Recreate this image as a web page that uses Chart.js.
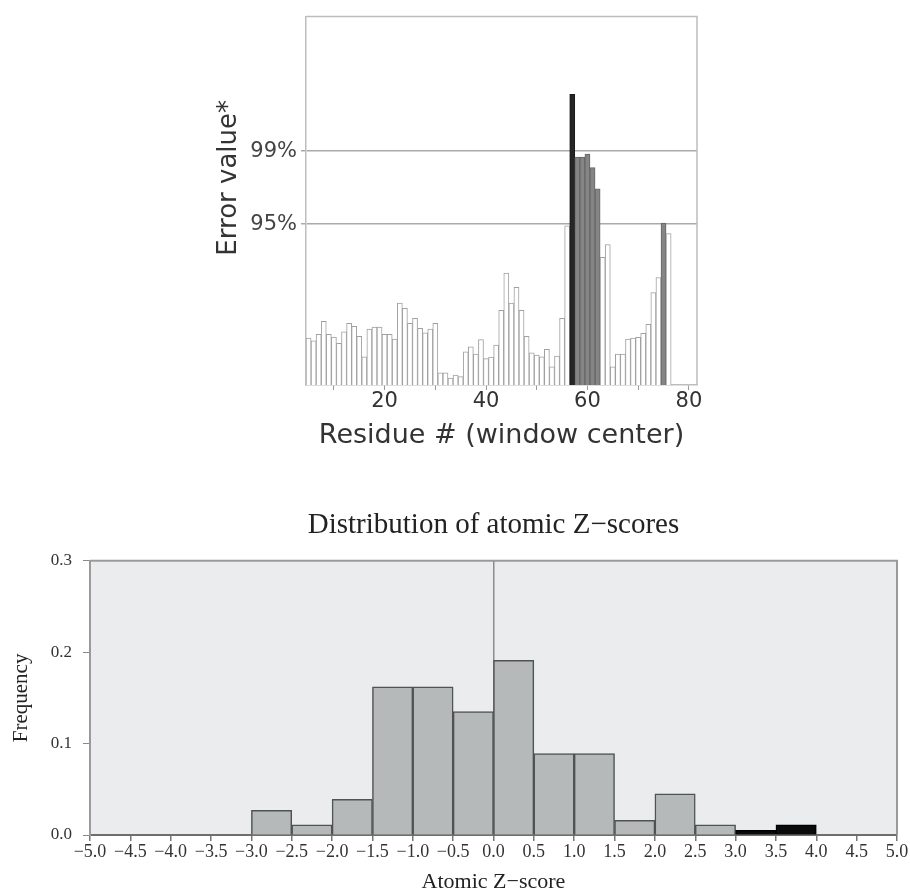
<!DOCTYPE html>
<html><head><meta charset="utf-8">
<script src="https://cdn.jsdelivr.net/npm/chart.js@4.4.0/dist/chart.umd.min.js"></script>
<style>
html,body{margin:0;padding:0;background:#fff;}
#wrap{position:relative;width:910px;height:893px;overflow:hidden;}
#c1{position:absolute;left:0;top:0;}
#c2{position:absolute;left:0;top:470px;}
</style></head><body>
<div id="wrap">
<canvas id="c1" width="910" height="470"></canvas>
<canvas id="c2" width="910" height="423"></canvas>
</div>
<script>
// ---------- Top chart data (ERRAT-style error values per residue) ----------
const residues = [5,6,7,8,9,10,11,12,13,14,15,16,17,18,19,20,21,22,23,24,25,26,27,28,29,30,
  31,32,33,34,35,36,37,38,39,40,41,42,43,44,45,46,47,48,49,50,51,52,53,54,55,56,57,58,59,60,
  61,62,63,64,65,66,67,68,69,70,71,72,73,74,75,76];
const errorValues = [3.44,3.24,3.73,4.68,3.73,3.53,3.07,3.90,4.54,4.32,3.58,2.07,4.10,4.26,4.26,3.73,3.73,3.37,6.02,5.63,4.54,4.90,4.17,3.83,4.10,4.54,
  0.90,0.90,0.51,0.73,0.61,2.44,2.80,2.27,3.33,1.94,2.05,2.93,5.49,8.22,6.02,7.17,5.49,3.58,2.36,2.19,2.07,2.63,1.34,2.12,4.90,11.70,21.36,16.75,16.75,16.97,
  15.97,14.41,9.39,10.31,1.34,2.27,2.27,3.37,3.44,3.51,3.80,4.46,6.80,7.90,11.90,11.12];
const thresholdValues = [11.813, 17.19];
const thresholdLabels = ['95%', '99%'];
const labeledResidueTicks = [20, 40, 60, 80];

// ---------- Bottom chart data (histogram of atomic Z-scores) ----------
const zBinCenters = [-2.75,-2.25,-1.75,-1.25,-0.75,-0.25,0.25,0.75,1.25,1.75,2.25,2.75,3.25,3.75];
const zFrequencies = [0.027,0.011,0.039,0.162,0.162,0.135,0.191,0.089,0.089,0.016,0.045,0.011,0.005,0.011];
const zOutlierLimit = 3.0;

const framePlugin = {
  id: 'frame',
  beforeDraw(chart, args, opts) {
    if (!opts.fill) return;
    const {ctx, chartArea: a} = chart;
    ctx.save(); ctx.fillStyle = opts.fill;
    ctx.fillRect(a.left, a.top, a.right - a.left, a.bottom - a.top);
    ctx.restore();
  },
  afterDraw(chart, args, opts) {
    const {ctx, chartArea: a} = chart;
    ctx.save(); ctx.strokeStyle = opts.color; ctx.lineWidth = opts.width;
    ctx.beginPath();
    ctx.moveTo(a.left, a.top); ctx.lineTo(a.right, a.top); ctx.lineTo(a.right, a.bottom);
    ctx.stroke(); ctx.restore();
  }
};

const sideTitlePlugin = {
  id: 'sideTitle',
  afterDraw(chart, args, opts) {
    const {ctx, chartArea: a} = chart;
    ctx.save();
    ctx.translate(opts.x, (a.top + a.bottom) / 2 + opts.dy);
    ctx.rotate(-Math.PI / 2);
    ctx.font = opts.font; ctx.fillStyle = opts.color;
    ctx.textAlign = 'center'; ctx.textBaseline = 'middle';
    ctx.fillText(opts.text, 0, 0);
    ctx.restore();
  }
};

const sans = 'DejaVu Sans';
const serif = 'Liberation Serif';

new Chart(document.getElementById('c1'), {
  type: 'bar',
  data: {
    datasets: [{
      data: residues.map((r, i) => ({x: r, y: errorValues[i]})),
      backgroundColor: errorValues.map(v => v > thresholdValues[1] ? '#262626' : (v > thresholdValues[0] ? '#858585' : '#ffffff')),
      borderColor: errorValues.map(v => v > thresholdValues[1] ? '#1a1a1a' : (v > thresholdValues[0] ? '#666666' : '#a0a0a0')),
      borderWidth: 1,
      barPercentage: 1,
      categoryPercentage: 1
    }]
  },
  options: {
    responsive: false,
    animation: false,
    layout: {padding: {top: 15, right: 213, left: 0, bottom: 0}},
    plugins: {
      legend: {display: false},
      tooltip: {enabled: false},
      frame: {color: '#bdbdbd', width: 1.5},
      sideTitle: {text: 'Error value*', x: 229, dy: -23, font: '26px "DejaVu Sans"', color: '#333'}
    },
    scales: {
      x: {
        type: 'linear', min: 4.5, max: 81.6, offset: false,
        ticks: {stepSize: 10, includeBounds: false, autoSkip: false, maxRotation: 0, padding: -1,
          color: '#333', font: {family: sans, size: 21},
          callback: v => labeledResidueTicks.includes(v) ? String(v) : ''},
        grid: {drawOnChartArea: false, offset: false, tickLength: 5, tickColor: '#999', lineWidth: 1},
        border: {color: '#bdbdbd', width: 1.5},
        title: {display: true, text: 'Residue # (window center)', color: '#333',
          font: {family: sans, size: 27}, padding: {top: 0, bottom: 18}},
        afterFit: s => { s.height = 85; }
      },
      y: {
        min: 0, max: 27.07,
        afterBuildTicks: s => { s.ticks = thresholdValues.map(v => ({value: v})); },
        ticks: {callback: (v, i) => thresholdLabels[i], color: '#444', font: {family: sans, size: 21}, padding: 4},
        grid: {color: '#aaaaaa', lineWidth: 1.5, tickLength: 5},
        border: {color: '#bdbdbd', width: 1.5},
        afterFit: s => { s.width = 306; }
      }
    }
  },
  plugins: [framePlugin, sideTitlePlugin]
});

new Chart(document.getElementById('c2'), {
  type: 'bar',
  data: {
    datasets: [{
      data: zBinCenters.map((c, i) => ({x: c, y: zFrequencies[i]})),
      backgroundColor: zBinCenters.map(c => c > zOutlierLimit ? '#0a0a0a' : '#b6b9b9'),
      borderColor: zBinCenters.map(c => c > zOutlierLimit ? '#000000' : '#4e5353'),
      borderWidth: 1.5,
      barPercentage: 1,
      categoryPercentage: 1
    }]
  },
  options: {
    responsive: false,
    animation: false,
    layout: {padding: {top: 0, right: 13, left: 0, bottom: 0}},
    plugins: {
      legend: {display: false},
      tooltip: {enabled: false},
      title: {display: true, text: 'Distribution of atomic Z\u2212scores', fullSize: false,
        color: '#222', font: {family: serif, size: 29, weight: 'normal'}, padding: {top: 38, bottom: 18}},
      frame: {color: '#9a9a9a', width: 2, fill: '#ebeced'}
    },
    scales: {
      x: {
        type: 'linear', min: -5, max: 5, offset: false,
        ticks: {stepSize: 0.5, autoSkip: false, maxRotation: 0, padding: 0, color: '#333',
          font: {family: serif, size: 18},
          callback: v => v.toFixed(1).replace('-', '\u2212')},
        grid: {drawOnChartArea: true, offset: false, tickLength: 6, tickColor: '#777', lineWidth: 1.5,
          color: c => (c.tick && c.tick.value === 0) ? '#8c8c8c' : 'rgba(0,0,0,0)'},
        border: {color: '#6e6e6e', width: 2},
        title: {display: true, text: 'Atomic Z\u2212score', color: '#222',
          font: {family: serif, size: 22}, padding: {top: 0, bottom: -2}},
        afterFit: s => { s.height = 58; }
      },
      y: {
        min: 0, max: 0.3,
        ticks: {stepSize: 0.1, color: '#333', font: {family: serif, size: 17}, padding: 11,
          callback: v => v.toFixed(1)},
        grid: {drawOnChartArea: false, tickLength: 7, tickColor: '#888'},
        border: {color: '#9a9a9a', width: 2},
        title: {display: true, text: 'Frequency', color: '#222',
          font: {family: serif, size: 21}, padding: {top: 9, bottom: 0}},
        afterFit: s => { s.width = 90; }
      }
    }
  },
  plugins: [framePlugin]
});
</script>
</body></html>
